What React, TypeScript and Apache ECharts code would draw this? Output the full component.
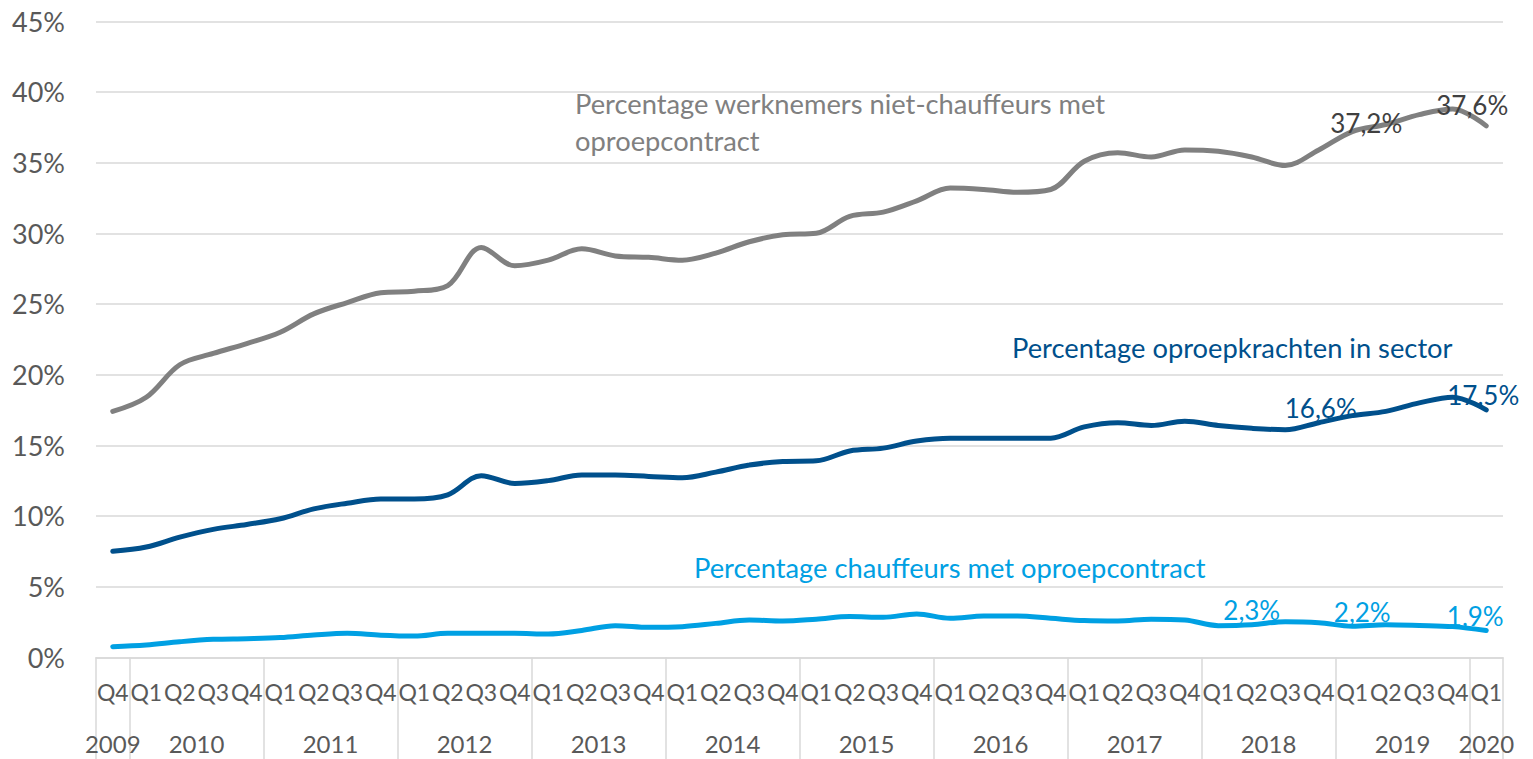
import React, { useEffect, useRef } from "react";
import * as echarts from "echarts";

// ---- data ----
const yearLabels = ["2009", "2010", "2011", "2012", "2013", "2014", "2015", "2016", "2017", "2018", "2019", "2020"];
const quartersPerYear = [
  ["Q4"],
  ["Q1", "Q2", "Q3", "Q4"],
  ["Q1", "Q2", "Q3", "Q4"],
  ["Q1", "Q2", "Q3", "Q4"],
  ["Q1", "Q2", "Q3", "Q4"],
  ["Q1", "Q2", "Q3", "Q4"],
  ["Q1", "Q2", "Q3", "Q4"],
  ["Q1", "Q2", "Q3", "Q4"],
  ["Q1", "Q2", "Q3", "Q4"],
  ["Q1", "Q2", "Q3", "Q4"],
  ["Q1", "Q2", "Q3", "Q4"],
  ["Q1"],
];
const yTicks = [0, 5, 10, 15, 20, 25, 30, 35, 40, 45];

const nietChauffeurs = [
  17.4, 18.4, 20.7, 21.5, 22.2, 23.0, 24.3, 25.1, 25.8, 25.9,
  26.3, 29.0, 27.7, 28.1, 28.9, 28.4, 28.3, 28.1, 28.6, 29.4,
  29.9, 30.0, 31.2, 31.5, 32.3, 33.2, 33.1, 32.9, 33.1, 35.1,
  35.7, 35.4, 35.9, 35.8, 35.4, 34.8, 35.9, 37.2, 37.7, 38.4,
  38.8, 37.6,
];
const oproepkrachtenSector = [
  7.5, 7.8, 8.5, 9.05, 9.4, 9.8, 10.5, 10.9, 11.2, 11.2,
  11.5, 12.85, 12.3, 12.5, 12.9, 12.9, 12.8, 12.7, 13.1, 13.6,
  13.85, 13.9, 14.6, 14.8, 15.3, 15.5, 15.5, 15.5, 15.5, 16.3,
  16.6, 16.4, 16.7, 16.4, 16.2, 16.1, 16.6, 17.1, 17.4, 18.0,
  18.4, 17.5,
];
const chauffeurs = [
  0.75, 0.87, 1.1, 1.27, 1.32, 1.4, 1.58, 1.7, 1.56, 1.5,
  1.7, 1.7, 1.7, 1.65, 1.9, 2.24, 2.12, 2.17, 2.4, 2.64,
  2.57, 2.7, 2.88, 2.83, 3.07, 2.76, 2.92, 2.92, 2.76, 2.6,
  2.57, 2.7, 2.64, 2.24, 2.3, 2.52, 2.45, 2.2, 2.3, 2.25,
  2.17, 1.9,
];

const seriesNames = [
  "Percentage werknemers niet-chauffeurs met oproepcontract",
  "Percentage oproepkrachten in sector",
  "Percentage chauffeurs met oproepcontract",
];
// indices of points that carry a data label
const labelledNiet = [37, 41];
const labelledSector = [36, 41];
const labelledChauffeurs = [34, 37, 41];

// ---- styles ----
const FONT = "Lato";
const GRAY = "#808080";
const DARK = "#00508C";
const LIGHT = "#00A0E3";
const AXIS_TEXT = "#595959";
const GRID_LINE = "#D9D9D9";

const fmt = (v: number) => v.toFixed(1).replace(".", ",") + "%";

function App() {
  const ref = useRef<HTMLDivElement>(null);

  useEffect(() => {
    if (!ref.current) return;
    const chart = echarts.init(ref.current, undefined, { renderer: "svg" });

    const quarterCats: string[] = [];
    quartersPerYear.forEach((qs) => qs.forEach((q) => quarterCats.push(q)));
    const n = quarterCats.length;

    // year axis: half-quarter positions (boundaryGap false)
    const yearCats: string[] = new Array(2 * n + 1).fill("");
    const boundaries = new Set<number>();
    let start = 0;
    quartersPerYear.forEach((qs, yi) => {
      boundaries.add(2 * start);
      yearCats[2 * start + qs.length] = yearLabels[yi];
      start += qs.length;
    });
    boundaries.add(2 * n);

    const mkData = (vals: number[], labelled: number[], offsets: Record<number, number[]> = {}) =>
      vals.map((v, i) =>
        labelled.includes(i)
          ? { value: v, label: { show: true, offset: offsets[i] || [0, 0] } }
          : v
      );

    const labelStyle = (color: string) => ({
      show: false,
      position: "top",
      distance: 1,
      color,
      fontFamily: FONT,
      fontSize: 26,
      formatter: (p: any) => fmt(p.value),
    });

    const lineSeries = (name: string, data: any[], color: string, labelColor: string) => ({
      name,
      type: "line",
      xAxisIndex: 0,
      data,
      smooth: 0.35,
      symbol: "circle",
      symbolSize: 1,
      showSymbol: true,
      showAllSymbol: true,
      itemStyle: { color },
      lineStyle: { color, width: 5, cap: "round" },
      label: labelStyle(labelColor),
      emphasis: { disabled: true },
      z: 3,
    });

    chart.setOption({
      animation: false,
      backgroundColor: "#ffffff",
      textStyle: { fontFamily: FONT },
      grid: {
        left: 96,
        right: 30,
        top: 21.3,
        bottom: 101.7,
        containLabel: false,
        outerBoundsMode: "none",
      },
      xAxis: [
        {
          type: "category",
          data: quarterCats,
          boundaryGap: true,
          axisLine: { show: true, lineStyle: { color: GRID_LINE, width: 1.5 } },
          axisTick: { show: false },
          axisLabel: {
            interval: 0,
            color: AXIS_TEXT,
            fontFamily: FONT,
            fontSize: 23,
            margin: 23,
          },
          splitLine: { show: false },
        },
        {
          type: "category",
          data: yearCats,
          boundaryGap: false,
          position: "bottom",
          axisLine: { show: false },
          axisTick: {
            show: true,
            interval: (idx: number) => boundaries.has(idx),
            length: 110,
            lineStyle: { color: GRID_LINE, width: 1.5 },
          },
          axisLabel: {
            interval: 0,
            color: AXIS_TEXT,
            fontFamily: FONT,
            fontSize: 24,
            margin: 74,
          },
          splitLine: { show: false },
        },
      ],
      yAxis: {
        type: "value",
        min: yTicks[0],
        max: yTicks[yTicks.length - 1],
        interval: 5,
        axisLine: { show: false },
        axisTick: { show: false },
        axisLabel: {
          formatter: "{value}%",
          color: AXIS_TEXT,
          fontFamily: FONT,
          fontSize: 27,
          margin: 31,
        },
        splitLine: { show: true, lineStyle: { color: GRID_LINE, width: 1.5 } },
      },
      series: [
        lineSeries(seriesNames[0], mkData(nietChauffeurs, labelledNiet, { 37: [14, 6], 41: [-14, -6] }), GRAY, "#404040"),
        lineSeries(seriesNames[1], mkData(oproepkrachtenSector, labelledSector, { 36: [2, 0], 41: [-3, 0] }), DARK, DARK),
        lineSeries(seriesNames[2], mkData(chauffeurs, labelledChauffeurs, { 34: [0, 0], 37: [10, 0], 41: [-11, 0] }), LIGHT, LIGHT),
      ],
      graphic: [
        {
          type: "text",
          left: 575,
          top: 85,
          style: {
            text: "Percentage werknemers niet-chauffeurs met\noproepcontract",
            fill: GRAY,
            fontFamily: FONT,
            fontSize: 27.3,
            lineHeight: 37,
          },
        },
        {
          type: "text",
          left: 1012,
          top: 334,
          style: {
            text: seriesNames[1],
            fill: DARK,
            fontFamily: FONT,
            fontSize: 27.3,
          },
        },
        {
          type: "text",
          left: 694,
          top: 554,
          style: {
            text: seriesNames[2],
            fill: LIGHT,
            fontFamily: FONT,
            fontSize: 27.3,
          },
        },
      ],
    });

    return () => chart.dispose();
  }, []);

  return (
    <div
      ref={ref}
      style={{ position: "fixed", left: 0, top: 0, width: 1533, height: 759 }}
    />
  );
}

export default App;
